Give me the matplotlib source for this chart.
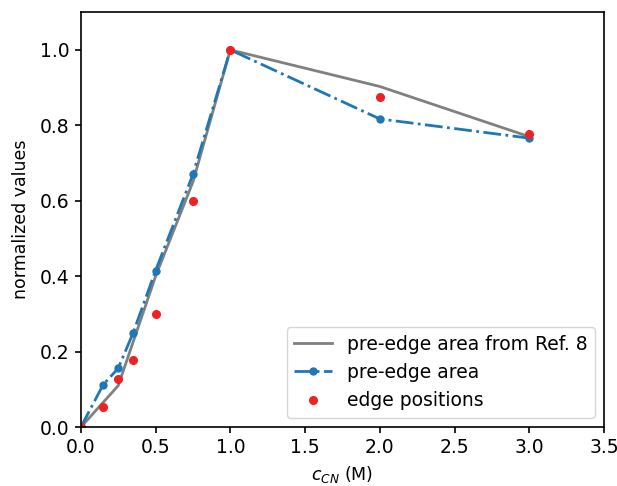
import numpy as np
import matplotlib
matplotlib.use("Agg")
from matplotlib import pyplot as plt

# literature pre-edge area
c_ref = [0.0, 0.25, 0.5, 0.75, 1.0, 2.0, 3.0]
area_ref = [0.0, 0.11, 0.40, 0.65, 1.0, 0.903, 0.77]

# measured
c_meas = [0.0, 0.15, 0.25, 0.35, 0.5, 0.75, 1.0, 2.0, 3.0]
area = [0.0, 0.113, 0.156, 0.25, 0.415, 0.67, 1.0, 0.817, 0.766]
edge = [0.0, 0.053, 0.127, 0.178, 0.30, 0.60, 1.0, 0.876, 0.777]

plt.rcParams['font.size'] = 13.5
plt.rcParams['axes.linewidth'] = 1.2
plt.rcParams['xtick.major.width'] = 1.2
plt.rcParams['ytick.major.width'] = 1.2
plt.rcParams['xtick.major.size'] = 4.5
plt.rcParams['ytick.major.size'] = 4.5
fig = plt.figure(figsize=(6.17, 4.86), dpi=100)
ax = fig.add_axes([0.131, 0.121, 0.848, 0.854])

ax.plot(c_ref, area_ref, color='gray', lw=2, label='pre-edge area from Ref. 8')
ax.plot(c_meas, area, '.-.', color='#1f77b4', lw=2, ms=10, label='pre-edge area')
ax.plot(c_meas, edge, 'o', color='#ee2222', ms=5.5, ls='none', label='edge positions')

ax.set_xlim(0, 3.5)
ax.set_ylim(0, 1.1)
ax.set_xticks(np.arange(0, 3.51, 0.5))
ax.set_yticks(np.arange(0, 1.01, 0.2))
ax.set_xlabel('$c_{CN}$ (M)', fontsize=12.5, labelpad=5)
ax.set_ylabel('normalized values', fontsize=12.5, labelpad=7)
ax.legend(loc='lower right')

fig.savefig('out.png')
